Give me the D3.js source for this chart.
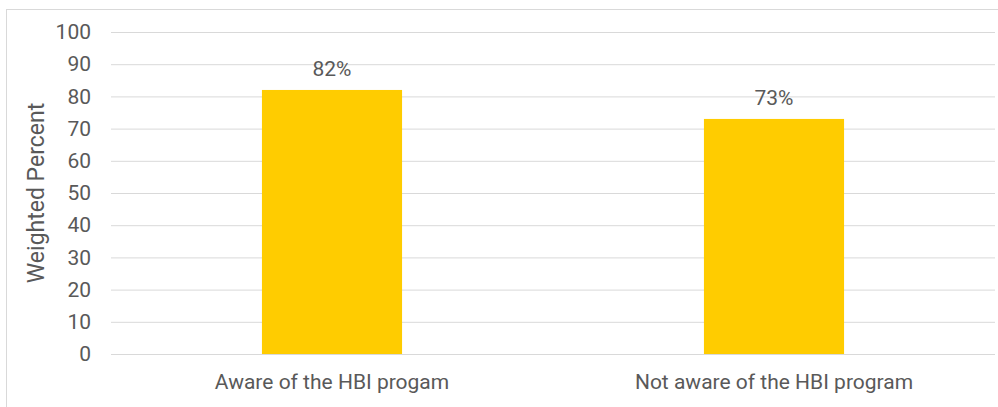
<!DOCTYPE html>
<html><head><meta charset="utf-8">
<script src="https://cdn.jsdelivr.net/npm/d3@7"></script>
<style>
html,body{margin:0;padding:0;background:#fff;}
svg{display:block;font-family:Roboto,"Noto Sans",sans-serif;}
</style></head>
<body>
<svg id="chart" width="998" height="407"></svg>
<script>
const categories = ["Aware of the HBI progam", "Not aware of the HBI program"];
const values = [82, 73];
const valueLabels = ["82%", "73%"];
const yTicks = [0, 10, 20, 30, 40, 50, 60, 70, 80, 90, 100];
const yTitle = "Weighted Percent";

const svg = d3.select("#chart");
const W = 998, H = 407;
const m = {left: 111, right: 3, top: 32, bottom: 53};
const textColor = "#595959";

// outer border
svg.append("rect").attr("x", 6.5).attr("y", 9.5).attr("width", 1000).attr("height", 420)
  .attr("fill", "none").attr("stroke", "#d9d9d9").attr("stroke-width", 1);

const x = d3.scaleBand().domain(categories).range([m.left, W - m.right]).paddingInner(0.683).paddingOuter(0.3415);
const y = d3.scaleLinear().domain([0, 100]).range([H - m.bottom, m.top]);

// gridlines
const grid = svg.append("g").attr("transform", `translate(${m.left},0)`)
  .call(d3.axisLeft(y).tickValues(yTicks).tickSize(-(W - m.right - m.left)).tickFormat(""));
grid.select(".domain").remove();
grid.selectAll("line").attr("stroke", "#d9d9d9").attr("stroke-width", 1);

// y tick labels
const yAxis = svg.append("g").attr("transform", `translate(${m.left},0)`)
  .call(d3.axisLeft(y).tickValues(yTicks).tickSize(0).tickPadding(20));
yAxis.select(".domain").remove();
yAxis.selectAll("text").attr("font-size", 21).attr("fill", textColor).attr("font-family", "Roboto");

// bars
svg.append("g").selectAll("rect").data(values).join("rect")
  .attr("x", (d, i) => x(categories[i]))
  .attr("width", x.bandwidth())
  .attr("y", d => y(d))
  .attr("height", d => y(0) - y(d))
  .attr("fill", "#ffcc00");

// value labels
svg.append("g").selectAll("text").data(values).join("text")
  .attr("x", (d, i) => x(categories[i]) + x.bandwidth() / 2)
  .attr("y", d => y(d) - 14)
  .attr("text-anchor", "middle")
  .attr("font-size", 21).attr("fill", textColor)
  .text((d, i) => valueLabels[i]);

// x axis labels
const xAxis = svg.append("g").attr("transform", `translate(0,${H - m.bottom})`)
  .call(d3.axisBottom(x).tickSize(0).tickPadding(20));
xAxis.select(".domain").remove();
xAxis.selectAll("text").attr("font-size", 21).attr("fill", textColor).attr("font-family", "Roboto");

// y title
svg.append("text")
  .attr("transform", `translate(44,${(y(0) + y(100)) / 2}) rotate(-90)`)
  .attr("text-anchor", "middle")
  .attr("font-size", 23).attr("fill", textColor)
  .text(yTitle);
</script>
</body></html>
